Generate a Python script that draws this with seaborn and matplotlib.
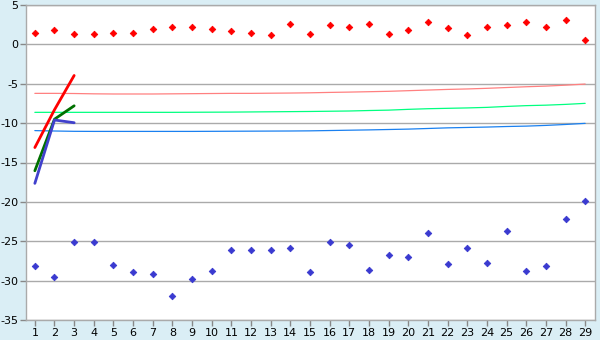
import matplotlib
matplotlib.use("Agg")
import matplotlib.pyplot as plt
import seaborn as sns
import pandas as pd

sns.set_theme(style="white")
plt.rcParams['font.family'] = ['DejaVu Sans']

days = list(range(1, 30))

red_points = [1.5, 1.8, 1.3, 1.3, 1.4, 1.5, 2.0, 2.2, 2.2,
              2.0, 1.65, 1.5, 1.15, 2.55, 1.3, 2.4, 2.15, 2.65, 1.3,
              1.8, 2.9, 2.05, 1.15, 2.15, 2.4, 2.9, 2.15, 3.15, 0.5]
blue_points = [-28.2, -29.6, -25.15, -25.15, -28.05, -28.95, -29.2, -32.0, -29.85,
               -28.8, -26.15, -26.15, -26.15, -25.9, -28.95, -25.15, -25.5, -28.7, -26.8,
               -27.05, -23.9, -27.95, -25.8, -27.8, -23.75, -28.8, -28.2, -22.2, -19.95]

red_trend = [-6.22, -6.22, -6.24, -6.28, -6.3, -6.3, -6.3, -6.28, -6.26,
             -6.24, -6.22, -6.22, -6.2, -6.18, -6.15, -6.1, -6.06, -6.01, -5.96,
             -5.88, -5.8, -5.72, -5.66, -5.58, -5.48, -5.38, -5.3, -5.18, -5.04]
green_trend = [-8.63, -8.63, -8.63, -8.63, -8.63, -8.63, -8.63, -8.63, -8.62,
               -8.61, -8.6, -8.58, -8.56, -8.54, -8.52, -8.49, -8.46, -8.4, -8.35,
               -8.25, -8.17, -8.12, -8.07, -8.0, -7.88, -7.78, -7.72, -7.62, -7.49]
blue_trend = [-10.95, -11.0, -11.04, -11.05, -11.05, -11.05, -11.05, -11.05, -11.05,
              -11.04, -11.03, -11.02, -11.01, -11.0, -10.98, -10.94, -10.9, -10.86, -10.81,
              -10.76, -10.68, -10.6, -10.55, -10.5, -10.43, -10.38, -10.29, -10.17, -10.03]

short_days = [1, 2, 3]
red_short = [-13.1, -8.3, -3.95]
green_short = [-16.05, -9.5, -7.8]
blue_short = [-17.65, -9.6, -9.95]

bg = "#DAEEF5"
fig = plt.figure(figsize=(6, 3.4), dpi=100, facecolor=bg)
ax = fig.add_axes([26/600, 1 - 320/340, (595 - 26)/600, (320 - 5)/340])
ax.set_facecolor("white")

for v in range(-35, 6, 5):
    ax.axhline(v, color="#AAAAAA", lw=1.0, zorder=0)

sns.lineplot(x=days, y=red_trend, color="#FF8080", lw=0.9, ax=ax, zorder=2)
sns.lineplot(x=days, y=green_trend, color="#00FF80", lw=0.9, ax=ax, zorder=2)
sns.lineplot(x=days, y=blue_trend, color="#1A80F0", lw=0.9, ax=ax, zorder=2)

sns.lineplot(x=short_days, y=red_short, color="#FF0000", lw=2.0, ax=ax, zorder=3)
sns.lineplot(x=short_days, y=green_short, color="#007000", lw=2.0, ax=ax, zorder=3)
sns.lineplot(x=short_days, y=blue_short, color="#4040CC", lw=2.0, ax=ax, zorder=3)

sns.scatterplot(x=days, y=red_points, color="#FF0000", marker="D", s=11,
                edgecolor="#FF0000", linewidth=0.6, ax=ax, zorder=4)
sns.scatterplot(x=days, y=blue_points, color="#3A3AD0", marker="D", s=11,
                edgecolor="#3A3AD0", linewidth=0.6, ax=ax, zorder=4)

ax.set_xlim(0.55, 29.5)
ax.set_ylim(-35, 5)
ax.set_xticks(days)
ax.set_xticklabels([str(d) for d in days])
ax.set_yticks(list(range(-35, 6, 5)))
ax.set_yticklabels([str(v) for v in range(-35, 6, 5)])
ax.tick_params(axis="both", which="major", length=4, width=1, color="#888888",
               labelsize=8, labelcolor="black", pad=1.5, direction="out",
               bottom=True, left=True)
for s in ax.spines.values():
    s.set_color("#AAAAAA")
    s.set_linewidth(1.0)

fig.savefig("out.png", dpi=100, facecolor=bg)
